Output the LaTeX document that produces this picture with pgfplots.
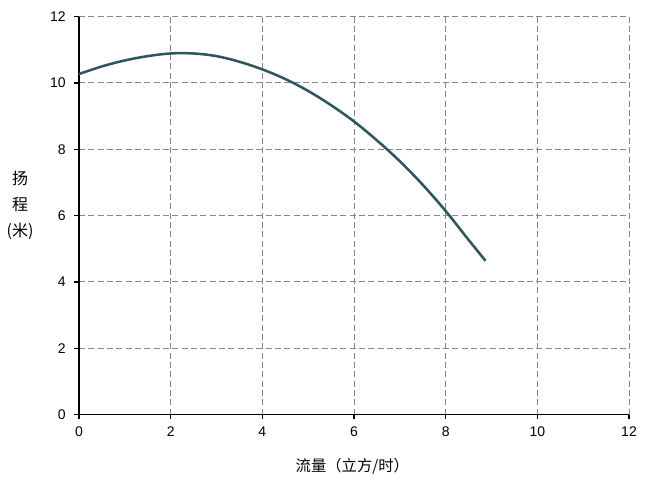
\documentclass[border=0pt]{standalone}
\usepackage{pgfplots}
\pgfplotsset{compat=1.18}
\usepackage{fontspec}
\setmainfont{Liberation Sans}
\newfontfamily\cjk{Noto Sans CJK SC}
\definecolor{curve}{RGB}{47,86,94}
\definecolor{gridc}{RGB}{135,135,135}
\begin{document}
\begin{tikzpicture}[x=1pt,y=1pt]
\begin{axis}[
  name=ax,
  scale only axis,
  width=412.5pt, height=298.5pt,
  xmin=0, xmax=12, ymin=0, ymax=12,
  xtick={0,2,...,12}, ytick={0,2,...,12},
  axis x line*=bottom, axis y line*=left,
  axis line style={black, line width=0.8pt, -},
  tick align=outside,
  major tick length=3.5pt,
  tick style={black, line width=0.8pt},
  grid=major,
  major grid style={gridc, dash pattern=on 4.5pt off 2.5pt, line width=0.75pt},
  ticklabel style={font=\fontsize{10.5}{12}\selectfont},
  /pgf/number format/assume math mode=true,
  xticklabel style={yshift=-2pt},
  yticklabel style={xshift=-3pt},
  xlabel={流量（立方/时）},
  xlabel style={font=\cjk\fontsize{11.5}{13}\selectfont, at={(axis description cs:0.497,-0.131)}, anchor=center},
  ylabel={扬\\程\\(米)},
  ylabel style={font=\cjk\fontsize{12}{19.5}\selectfont, at={(axis description cs:-0.107,0.525)}, anchor=center, rotate=-90, align=center},
  clip=false,
]
\addplot[curve, line width=1.9pt, smooth, tension=0.6] coordinates {
(0,10.27) (0.5,10.50) (1,10.68) (1.5,10.81) (2,10.89) (2.5,10.89) (3,10.81)
(3.5,10.64) (4,10.41) (4.5,10.12) (5,9.76) (5.5,9.33) (6,8.84)
(6.5,8.27) (7,7.64) (7.5,6.93) (8,6.14) (8.5,5.27) (8.87,4.64)
};
\end{axis}
\path[use as bounding box] ([xshift=-59.25pt,yshift=-52.5pt]ax.south west) rectangle ([xshift=15.75pt,yshift=12.5pt]ax.north east);
\end{tikzpicture}
\end{document}
